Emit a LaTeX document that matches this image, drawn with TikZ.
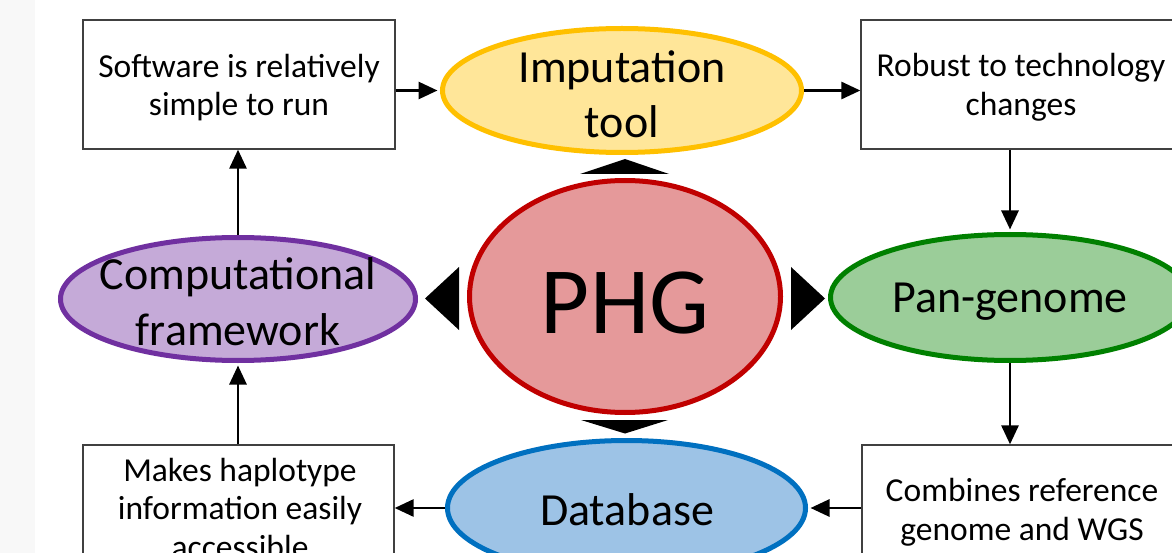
\documentclass[tikz,border=0pt]{standalone}
\usepackage{fontspec}
\setmainfont{Carlito}
\usetikzlibrary{shapes.geometric,arrows.meta}

\definecolor{sidebar}{RGB}{248,248,248}
\definecolor{boxline}{RGB}{64,64,64}
\definecolor{impline}{RGB}{255,192,0}
\definecolor{impfill}{RGB}{255,230,153}
\definecolor{phgline}{RGB}{192,0,0}
\definecolor{phgfill}{RGB}{229,153,154}
\definecolor{panline}{RGB}{0,128,0}
\definecolor{panfill}{RGB}{155,205,153}
\definecolor{compline}{RGB}{112,48,160}
\definecolor{compfill}{RGB}{197,170,216}
\definecolor{dbline}{RGB}{0,112,192}
\definecolor{dbfill}{RGB}{157,195,230}

\begin{document}
\begin{tikzpicture}[x=1pt,y=-1pt,
  hub/.style={ellipse, draw, line width=5pt, inner sep=0pt},
  % multi-line labels are placed by the baseline of their last line
  hubtext/.style={inner sep=0pt, align=center, anchor=base, font=\fontsize{46}{55.5}\selectfont},
  notebox/.style={rectangle, draw=boxline, line width=1.3pt, fill=white,
    minimum width=312pt, minimum height=129pt, inner sep=0pt},
  notetext/.style={inner sep=0pt, align=center, anchor=base, font=\fontsize{33.5}{38.5}\selectfont},
  arr/.style={line width=2.8pt, -{Triangle[length=19pt,width=17pt]}},
  toring/.style={shorten >=2.5pt},
  wedge/.style={fill=black}
]
% page and left side strip
\fill[white] (0,0) rectangle (1172,553);
\fill[sidebar] (0,0) rectangle (35,553);
\useasboundingbox (0,0) rectangle (1172,553);

% central hub and the four satellite ellipses
\node[hub, draw=phgline, fill=phgfill, minimum width=311pt, minimum height=232pt] (phg) at (625,296.5) {};
\node[hub, draw=impline, fill=impfill, minimum width=359pt, minimum height=124pt] (imp) at (622,90.5) {};
\node[hub, draw=panline, fill=panfill, minimum width=359pt, minimum height=126pt] (pan) at (1010,297.5) {};
\node[hub, draw=dbline, fill=dbfill, minimum width=358pt, minimum height=135pt] (db) at (626.5,508) {};
\node[hub, draw=compline, fill=compfill, minimum width=355pt, minimum height=123pt] (comp) at (238,299) {};

\node[hubtext, font=\fontsize{95}{110}\selectfont] (phg-t) at (625,333) {PHG};
\node[hubtext] (imp-t) at (622,138) {Imputation\\tool};
\node[hubtext] (pan-t) at (1010,312) {Pan-genome};
\node[hubtext] (db-t) at (627,525) {Database};
\node[hubtext] (comp-t) at (238,345) {Computational\\framework};

% rectangular notes
\node[notebox] (soft) at (239,84.5) {};
\node[notebox, minimum width=316pt] (robust) at (1019,84.5) {};
\node[notebox, minimum width=316pt, minimum height=128pt] (comb) at (1020,509) {};
\node[notebox, minimum width=311pt, minimum height=128pt] (makes) at (238.5,509) {};

\node[notetext] (soft-t) at (239,116) {Software is relatively\\simple to run};
\node[notetext] (robust-t) at (1021,115.5) {Robust to technology\\changes};
\node[notetext] (comb-t) at (1022,540) {Combines reference\\genome and WGS};
\node[notetext] (makes-t) at (240,558) {Makes haplotype\\information easily\\accessible};

% cycle of connectors
\draw[arr, toring] (soft.east |- imp.west) -- (imp.west);
\draw[arr] (imp.east) -- (robust.west |- imp.east);
\draw[arr, toring] (pan.north |- robust.south) -- (pan.north);
\draw[arr] (pan.south) -- (pan.south |- comb.north);
\draw[arr, toring] (comb.west |- db.east) -- (db.east);
\draw[arr] (db.west) -- (makes.east |- db.west);
\draw[arr, toring] (comp.south |- makes.north) -- (comp.south);
\draw[arr] (comp.north) -- (comp.north |- soft.south);

% wedges pointing out of the hub
\fill[wedge] (580,174) -- (625,159) -- (669,174) -- cycle;
\fill[wedge] (581,420) -- (625,433.5) -- (668,420) -- cycle;
\fill[wedge] (459,267) -- (425,298.5) -- (459,330) -- cycle;
\fill[wedge] (791,267) -- (825,298.5) -- (791,330) -- cycle;
\end{tikzpicture}
\end{document}
